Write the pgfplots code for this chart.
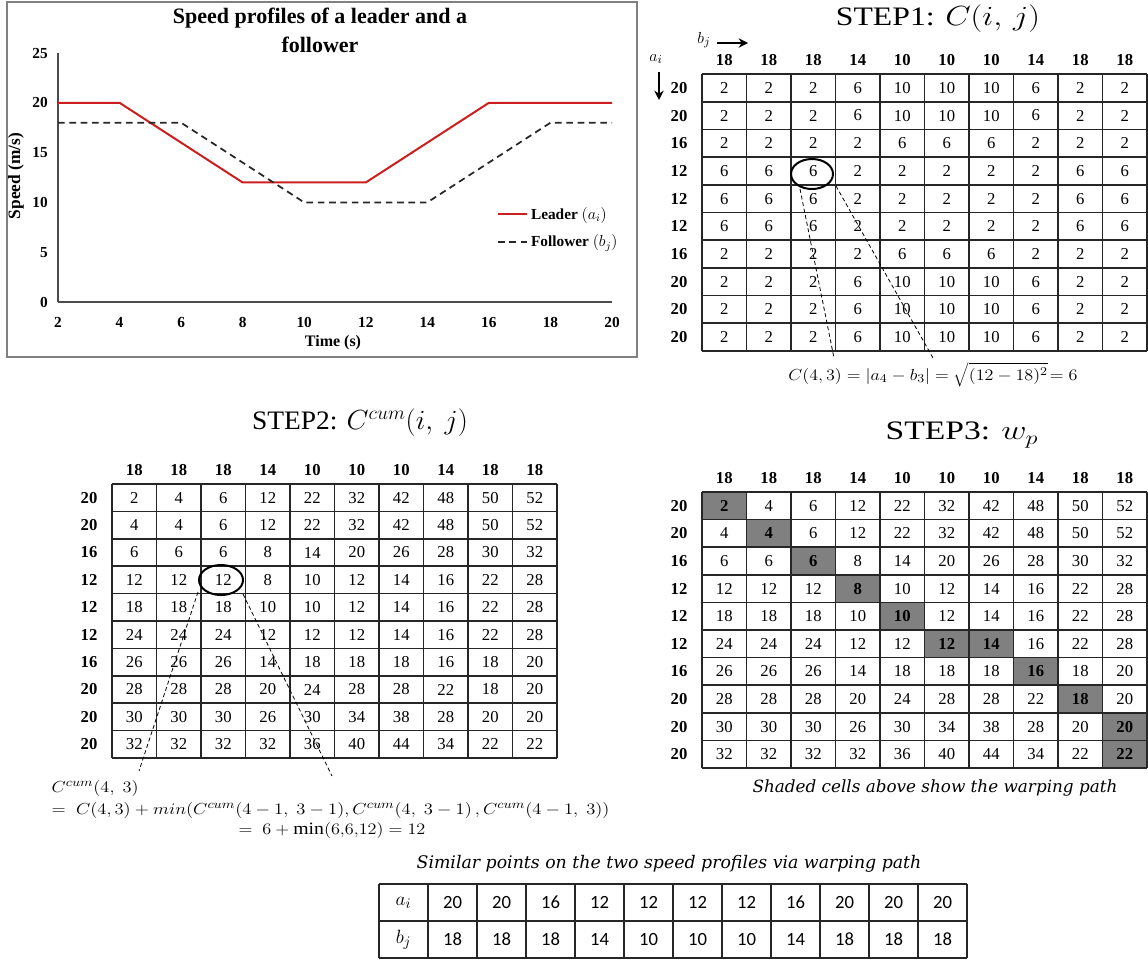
\documentclass[border=0pt]{standalone}
\usepackage{pgfplots}
\pgfplotsset{compat=1.18}
\usepackage{graphicx}
\usepackage{fontspec}
\setmainfont{Liberation Serif}
\newfontfamily\calibri{Carlito}
\newfontfamily\dvs{DejaVu Serif}
\usetikzlibrary{arrows.meta}

\definecolor{lred}{RGB}{204,30,30}
\definecolor{cellgray}{RGB}{128,128,128}

\newcommand\cw{44.5}
\newcommand\mn{\fontsize{12.5}{14}\selectfont}
\newcommand\mb{\bfseries\fontsize{12.5}{14}\selectfont}
\tikzset{gl/.style={line width=1.3pt,black!85}}

% #1 x0, #2 y0, #3 row height, #4 header, #5 row labels, #6 rows
\newcommand\drawmat[6]{%
  \foreach \hh [count=\ci] in {#4} {\node[font=\mb] at ({#1+(\ci-0.5)*\cw},{#2-14}) {\hh};}
  \foreach \ll [count=\ri] in {#5} {\node[font=\mb] at ({#1-23},{#2+(\ri-0.5)*#3}) {\ll};}
  \foreach \row [count=\ri] in {#6} {
    \foreach \val [count=\ci] in \row {\node[font=\mn] at ({#1+(\ci-0.5)*\cw},{#2+(\ri-0.5)*#3}) {\val};}
  }
}
\newcommand\drawgrid[3]{%
  \foreach \ii in {0,...,10} {\draw[gl] ({#1+\ii*\cw},#2) -- ({#1+\ii*\cw},{#2+10*#3});}
  \foreach \ii in {0,...,10} {\draw[gl] (#1,{#2+\ii*#3}) -- ({#1+10*\cw},{#2+\ii*#3});}
}

\begin{document}
\begin{tikzpicture}
\useasboundingbox (0pt,0pt) rectangle (861pt,-723.75pt);

\begin{axis}[
  at={(43.5pt,-226.5pt)}, anchor=south west,
  scale only axis, width=415.5pt, height=186.75pt,
  xmin=2, xmax=20, ymin=0, ymax=25,
  xtick={2,4,...,20}, ytick={0,5,...,25},
  axis lines=left, axis line style={black!70, line width=0.8pt, -},
  tick style={draw=none},
  ticklabel style={font=\bfseries\fontsize{11.5}{12}\selectfont},
  /pgf/number format/assume math mode=true,
  yticklabel style={xshift=-2pt},
  xticklabel style={yshift=-6pt},
  legend style={at={(0.792,0.297)}, anchor=west, draw=none, fill=none,
    font=\bfseries\fontsize{11.5}{13}\selectfont, row sep=6pt, inner sep=0pt},
  legend cell align=left,
  legend image code/.code={\draw[#1] (0pt,0pt) -- (22pt,0pt);},
]
\addplot[lred, line width=1.5pt] coordinates {(2,20) (4,20) (6,16) (8,12) (10,12) (12,12) (14,16) (16,20) (18,20) (20,20)};
\addlegendentry{Leader \textmd{$(a_i)$}}
\addplot[black!85, line width=1.3pt, dash pattern=on 5pt off 3.5pt] coordinates {(2,18) (4,18) (6,18) (8,14) (10,10) (12,10) (14,10) (16,14) (18,18) (20,18)};
\addlegendentry{Follower \textmd{$(b_j)$}}
\end{axis}

\begin{scope}[x=0.75pt, y=-0.75pt]
% chart frame and labels
\draw[black!50, line width=0.8pt] (7,2) rectangle (637,357);
\node[font=\bfseries\fontsize{16.5}{18}\selectfont] at (320,18) {Speed profiles of a leader and a};
\node[font=\bfseries\fontsize{16.5}{18}\selectfont] at (320,45) {follower};
\node[font=\bfseries\fontsize{13}{14}\selectfont, rotate=90] at (16,176) {Speed (m/s)};
\node[font=\bfseries\fontsize{12}{13}\selectfont] at (333,343) {Time (s)};

% ---------- STEP1 ----------
\node[font=\fontsize{20}{22}\selectfont] at (938,19) {\scalebox{1.19}[1]{STEP1: $C(i,\,j)$}};
\node[font=\fontsize{13}{14}\selectfont] at (704,40) {$b_j$};
\draw[-{Stealth[length=7pt,width=7pt]}, line width=1.4pt] (717,43) -- (748,43);
\node[font=\fontsize{13}{14}\selectfont] at (656,59) {$a_i$};
\draw[-{Stealth[length=7pt,width=7pt]}, line width=1.4pt] (659,72) -- (659,100);
\drawmat{702}{74}{27.7}{18,18,18,14,10,10,10,14,18,18}{20,20,16,12,12,12,16,20,20,20}{
 {2,2,2,6,10,10,10,6,2,2},
 {2,2,2,6,10,10,10,6,2,2},
 {2,2,2,2,6,6,6,2,2,2},
 {6,6,6,2,2,2,2,2,6,6},
 {6,6,6,2,2,2,2,2,6,6},
 {6,6,6,2,2,2,2,2,6,6},
 {2,2,2,2,6,6,6,2,2,2},
 {2,2,2,6,10,10,10,6,2,2},
 {2,2,2,6,10,10,10,6,2,2},
 {2,2,2,6,10,10,10,6,2,2}}
\drawgrid{702}{74}{27.7}
\draw[line width=1.5pt] (812,174) ellipse [x radius=21, y radius=15];
\draw[densely dashed, line width=0.6pt] (800,189) -- (834,358);
\draw[densely dashed, line width=0.6pt] (836,186) -- (933,358);
\node[font=\fontsize{13}{14}\selectfont] at (933,375) {\scalebox{1.13}[1]{$C(4,3)=|a_4-b_3|=\sqrt{(12-18)^2}\!=6$}};

% ---------- STEP2 ----------
\node[font=\fontsize{20}{22}\selectfont] at (360,423) {\scalebox{1.03}[1]{STEP2: $C^{cum}(i,\ j)$}};
\drawmat{112}{484}{27.4}{18,18,18,14,10,10,10,14,18,18}{20,20,16,12,12,12,16,20,20,20}{
 {2,4,6,12,22,32,42,48,50,52},
 {4,4,6,12,22,32,42,48,50,52},
 {6,6,6,8,14,20,26,28,30,32},
 {12,12,12,8,10,12,14,16,22,28},
 {18,18,18,10,10,12,14,16,22,28},
 {24,24,24,12,12,12,14,16,22,28},
 {26,26,26,14,18,18,18,16,18,20},
 {28,28,28,20,24,28,28,22,18,20},
 {30,30,30,26,30,34,38,28,20,20},
 {32,32,32,32,36,40,44,34,22,22}}
\drawgrid{112}{484}{27.4}
\draw[line width=1.5pt] (221,580) ellipse [x radius=22, y radius=15];
\draw[densely dashed, line width=0.6pt] (198,592) -- (139,771);
\draw[densely dashed, line width=0.6pt] (243,594) -- (332,776);
\node[font=\fontsize{13}{14}\selectfont, anchor=west] at (47,788) {\scalebox{1.15}[1]{$C^{cum}(4,\ 3)$}};
\node[font=\fontsize{13}{14}\selectfont, anchor=west] at (47,810) {\scalebox{1.16}[1]{$=\ C(4,3)+min(C^{cum}(4-1,\ 3-1),C^{cum}(4,\ 3-1)\,,C^{cum}(4-1,\ 3))$}};
\node[font=\fontsize{13}{14}\selectfont] at (332,830) {\scalebox{1.14}[1]{$=\ 6+\min(6{,}6{,}12)=12$}};

% ---------- STEP3 ----------
\node[font=\fontsize{20}{22}\selectfont] at (962,435) {\scalebox{1.26}[1]{STEP3: $w_p$}};
\drawmat{702}{492}{27.6}{18,18,18,14,10,10,10,14,18,18}{20,20,16,12,12,12,16,20,20,20}{
 {2,4,6,12,22,32,42,48,50,52},
 {4,4,6,12,22,32,42,48,50,52},
 {6,6,6,8,14,20,26,28,30,32},
 {12,12,12,8,10,12,14,16,22,28},
 {18,18,18,10,10,12,14,16,22,28},
 {24,24,24,12,12,12,14,16,22,28},
 {26,26,26,14,18,18,18,16,18,20},
 {28,28,28,20,24,28,28,22,18,20},
 {30,30,30,26,30,34,38,28,20,20},
 {32,32,32,32,36,40,44,34,22,22}}
\foreach \rr/\cc/\vv in {1/1/2,2/2/4,3/3/6,4/4/8,5/5/10,6/6/12,6/7/14,7/8/16,8/9/18,9/10/20,10/10/22} {
  \fill[cellgray] ({702+(\cc-1)*\cw},{492+(\rr-1)*27.6}) rectangle ({702+\cc*\cw},{492+\rr*27.6});
  \node[font=\bfseries\fontsize{12.5}{14}\selectfont] at ({702+(\cc-0.5)*\cw},{492+(\rr-0.5)*27.6}) {\vv};
}
\drawgrid{702}{492}{27.6}
\node[font=\dvs\itshape\fontsize{12.6}{14}\selectfont] at (935,788) {Shaded cells above show the warping path};

% ---------- bottom table ----------
\node[font=\dvs\itshape\fontsize{13}{14}\selectfont] at (669,864) {Similar points on the two speed profiles via warping path};
\foreach \ii in {0,...,12} {\draw[gl] ({379+\ii*49},884) -- ({379+\ii*49},958);}
\foreach \jj in {0,1,2} {\draw[gl] (379,{884+\jj*37}) -- (967,{884+\jj*37});}
\node[font=\fontsize{15}{16}\selectfont] at (403.5,902.5) {$a_i$};
\node[font=\fontsize{15}{16}\selectfont] at (403.5,939.5) {$b_j$};
\foreach \val [count=\ci] in {20,20,16,12,12,12,12,16,20,20,20} {\node[font=\calibri\fontsize{14}{15}\selectfont] at ({379+(\ci+0.5)*49},902.5) {\val};}
\foreach \val [count=\ci] in {18,18,18,14,10,10,10,14,18,18,18} {\node[font=\calibri\fontsize{14}{15}\selectfont] at ({379+(\ci+0.5)*49},939.5) {\val};}
\end{scope}
\end{tikzpicture}
\end{document}
